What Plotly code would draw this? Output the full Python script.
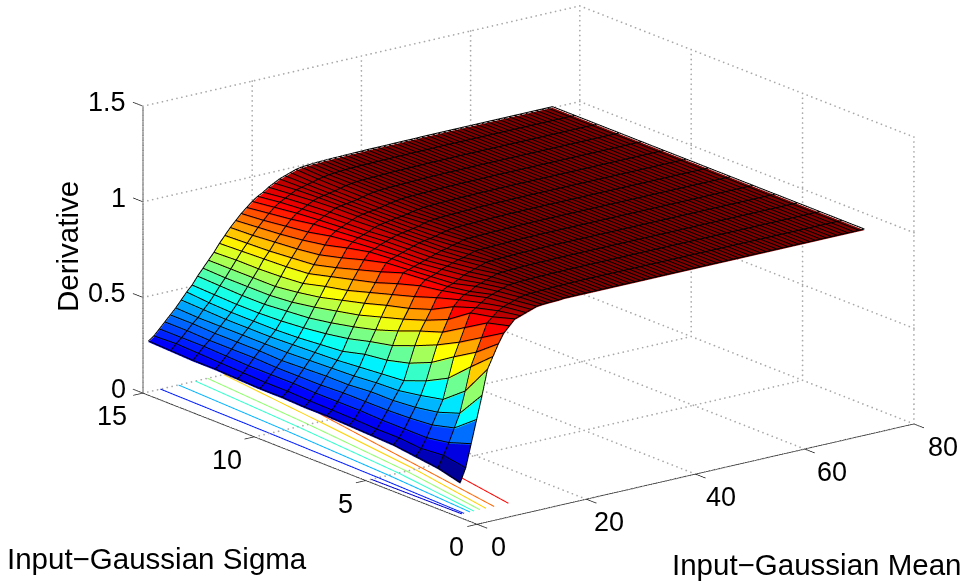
import plotly.graph_objects as go

sigma_values = [1,2,3,4,5,6,7,8,9,10,11,12,13,14,15]
mean_values = list(range(1,76))
# rows: one per mean value, columns: sigma 1..15
z_rows = [
[.16,.19,.205,.22,.225,.23,.235,.235,.24,.24,.245,.25,.25,.255,.26],
[.23,.25,.24,.25,.25,.255,.258,.26,.265,.265,.27,.275,.28,.285,.28],
[.35,.31,.29,.29,.29,.295,.295,.295,.30,.30,.30,.305,.31,.31,.31],
[.47,.38,.35,.34,.335,.335,.335,.33,.33,.33,.335,.335,.335,.34,.34],
[.59,.45,.41,.39,.38,.38,.37,.37,.365,.36,.365,.365,.365,.37,.37],
[.72,.56,.47,.445,.425,.42,.41,.405,.40,.395,.395,.395,.395,.395,.40],
[.78,.68,.575,.515,.47,.46,.45,.44,.435,.43,.425,.425,.425,.43,.435],
[.84,.75,.68,.605,.555,.525,.51,.48,.47,.46,.455,.455,.455,.46,.47],
[.89,.82,.75,.69,.64,.595,.57,.54,.52,.505,.495,.49,.49,.495,.50],
[.92,.89,.82,.75,.71,.665,.625,.595,.57,.55,.54,.53,.53,.535,.54],
[.95,.915,.89,.81,.76,.72,.685,.65,.625,.60,.58,.57,.57,.57,.575],
[.96,.94,.91,.87,.81,.77,.74,.705,.675,.645,.625,.61,.61,.61,.61],
[.97,.955,.93,.90,.865,.825,.79,.755,.72,.695,.665,.655,.65,.65,.645],
[.98,.965,.95,.92,.895,.875,.84,.80,.77,.74,.71,.70,.695,.69,.685],
[.99,.975,.96,.93,.91,.90,.89,.85,.815,.78,.75,.74,.73,.725,.72],
[.993,.985,.97,.95,.92,.91,.90,.89,.86,.825,.795,.78,.77,.76,.755],
[.995,.99,.98,.96,.935,.92,.91,.905,.895,.87,.84,.82,.805,.795,.785],
[.996,.992,.99,.97,.95,.935,.92,.915,.905,.895,.88,.855,.84,.825,.815],
[.997,.993,.992,.98,.96,.945,.93,.925,.92,.91,.90,.89,.87,.855,.84],
[1,.995,.994,.99,.97,.955,.94,.935,.93,.92,.913,.905,.895,.88,.865],
[1,.996,.995,.992,.98,.965,.95,.945,.94,.93,.925,.92,.91,.90,.885],
[1,.997,.996,.994,.99,.97,.96,.955,.95,.945,.938,.933,.925,.915,.90],
[1,.998,.997,.995,.992,.98,.965,.96,.955,.952,.95,.947,.94,.93,.92],
[1,.998,.998,.996,.994,.99,.975,.965,.96,.957,.955,.953,.95,.945,.935],
[1,.999,.998,.997,.995,.992,.98,.97,.965,.962,.96,.957,.955,.952,.95],
[1,.999,.999,.998,.996,.993,.99,.98,.97,.967,.963,.961,.96,.96,.96],
[1,1,.999,.998,.997,.994,.992,.985,.98,.97,.968,.966,.966,.966,.97],
[1,1,.999,.999,.998,.995,.993,.99,.985,.975,.974,.973,.973,.975,.98],
[1,1,1,.999,.998,.996,.994,.992,.988,.982,.98,.98,.98,.98,.985],
[1,1,1,.999,.999,.997,.995,.993,.99,.986,.985,.985,.985,.985,.988],
[1,1,1,1,.999,.998,.996,.994,.992,.99,.989,.988,.988,.988,.99],
[1,1,1,1,.999,.998,.997,.995,.993,.992,.991,.99,.99,.99,.992],
[1,1,1,1,1,.999,.997,.996,.994,.993,.992,.991,.991,.992,.993],
[1,1,1,1,1,.999,.998,.997,.995,.994,.993,.992,.992,.993,.994],
[1,1,1,1,1,.999,.998,.997,.996,.995,.994,.993,.993,.994,.995],
[1,1,1,1,1,1,.999,.998,.997,.996,.995,.994,.994,.995,.995],
[1,1,1,1,1,1,.999,.998,.998,.997,.996,.995,.995,.995,.996],
[1,1,1,1,1,1,.999,.999,.998,.997,.997,.996,.996,.996,.996],
[1,1,1,1,1,1,1,.999,.998,.998,.997,.997,.996,.996,.997],
[1,1,1,1,1,1,1,.999,.999,.998,.998,.997,.997,.997,.997],
[1,1,1,1,1,1,1,1,.999,.999,.998,.998,.997,.997,.998],
[1,1,1,1,1,1,1,1,.999,.999,.999,.998,.998,.998,.998],
[1,1,1,1,1,1,1,1,1,.999,.999,.999,.998,.998,.998],
[1,1,1,1,1,1,1,1,1,.999,.999,.999,.999,.998,.998],
[1,1,1,1,1,1,1,1,1,1,.999,.999,.999,.999,.998],
[1,1,1,1,1,1,1,1,1,1,.999,.999,.999,.999,.999],
[1,1,1,1,1,1,1,1,1,1,1,.999,.999,.999,.999],
[1,1,1,1,1,1,1,1,1,1,1,1,.999,.999,.999],
[1,1,1,1,1,1,1,1,1,1,1,1,1,.999,.999],
[1,1,1,1,1,1,1,1,1,1,1,1,1,1,.999],
[1,1,1,1,1,1,1,1,1,1,1,1,1,1,1],
[1,1,1,1,1,1,1,1,1,1,1,1,1,1,1],
[1,1,1,1,1,1,1,1,1,1,1,1,1,1,1],
[1,1,1,1,1,1,1,1,1,1,1,1,1,1,1],
[1,1,1,1,1,1,1,1,1,1,1,1,1,1,1],
[1,1,1,1,1,1,1,1,1,1,1,1,1,1,1],
[1,1,1,1,1,1,1,1,1,1,1,1,1,1,1],
[1,1,1,1,1,1,1,1,1,1,1,1,1,1,1],
[1,1,1,1,1,1,1,1,1,1,1,1,1,1,1],
[1,1,1,1,1,1,1,1,1,1,1,1,1,1,1],
[1,1,1,1,1,1,1,1,1,1,1,1,1,1,1],
[1,1,1,1,1,1,1,1,1,1,1,1,1,1,1],
[1,1,1,1,1,1,1,1,1,1,1,1,1,1,1],
[1,1,1,1,1,1,1,1,1,1,1,1,1,1,1],
[1,1,1,1,1,1,1,1,1,1,1,1,1,1,1],
[1,1,1,1,1,1,1,1,1,1,1,1,1,1,1],
[1,1,1,1,1,1,1,1,1,1,1,1,1,1,1],
[1,1,1,1,1,1,1,1,1,1,1,1,1,1,1],
[1,1,1,1,1,1,1,1,1,1,1,1,1,1,1],
[1,1,1,1,1,1,1,1,1,1,1,1,1,1,1],
[1,1,1,1,1,1,1,1,1,1,1,1,1,1,1],
[1,1,1,1,1,1,1,1,1,1,1,1,1,1,1],
[1,1,1,1,1,1,1,1,1,1,1,1,1,1,1],
[1,1,1,1,1,1,1,1,1,1,1,1,1,1,1],
[1,1,1,1,1,1,1,1,1,1,1,1,1,1,1],
]

# floor contours: level and the mean it sits at for sigma 1, 5, 10, 15
contour_sigma = [1, 5, 10, 15]
contour_levels = [.21, .28, .405, .51, .59, .72, .81, .89]
contour_means = [
    [1.3, 1.0, None, None],
    [1.7, 2.3, 2.8, 3.2],
    [2.8, 4.2, 5.5, 6.5],
    [3.5, 6.0, 8.0, 9.6],
    [4.6, 7.5, 9.9, 11.8],
    [5.7, 9.0, 12.0, 14.8],
    [7.2, 10.2, 13.9, 17.6],
    [9.8, 13.0, 16.7, 20.5],
]

x_ticks = [0, 20, 40, 60, 80]
y_ticks = [0, 5, 10, 15]
z_ticks = [0, 0.5, 1, 1.5]
z_tick_labels = ["0", "0.5", "1", "1.5"]
x_title = "Input\u2212Gaussian Mean"
y_title = "Input\u2212Gaussian Sigma"
z_title = "Derivative"

jet = [[0, "rgb(0,0,143)"], [.125, "rgb(0,0,255)"], [.375, "rgb(0,255,255)"],
       [.625, "rgb(255,255,0)"], [.875, "rgb(255,0,0)"], [1, "rgb(128,0,0)"]]
CMIN, CMAX = .15, 1.0
XMAX, YMAX, ZMAX = 80, 15, 1.5
FONT = "Liberation Sans, Arial, sans-serif"

nm, ns = len(mean_values), len(sigma_values)
vx, vy, vz, fi, fj, fk, inten = [], [], [], [], [], [], []
for a, m in enumerate(mean_values):
    for b, s in enumerate(sigma_values):
        vx.append(m); vy.append(s); vz.append(z_rows[a][b])
for a in range(nm - 1):
    for b in range(ns - 1):
        p = a * ns + b
        q, r, t = p + 1, p + ns, p + ns + 1
        fi += [p, q]; fj += [r, r]; fk += [q, t]
        inten += [z_rows[a][b], z_rows[a][b]]

fig = go.Figure()
fig.add_trace(go.Mesh3d(x=vx, y=vy, z=vz, i=fi, j=fj, k=fk, intensity=inten, intensitymode="cell",
                        colorscale=jet, cmin=CMIN, cmax=CMAX, showscale=False, flatshading=True,
                        lighting=dict(ambient=1, diffuse=0, specular=0, roughness=1, fresnel=0),
                        hoverinfo="skip"))

LIFT = 0.006
lx, ly, lz = [], [], []
for a, m in enumerate(mean_values):
    lx += [m] * ns + [None]; ly += sigma_values + [None]
    lz += [v + LIFT for v in z_rows[a]] + [None]
for b, s in enumerate(sigma_values):
    lx += mean_values + [None]; ly += [s] * nm + [None]
    lz += [z_rows[a][b] + LIFT for a in range(nm)] + [None]
fig.add_trace(go.Scatter3d(x=lx, y=ly, z=lz, mode="lines", line=dict(color="black", width=2),
                           hoverinfo="skip", showlegend=False))

# floor contours
for lev, ms in zip(contour_levels, contour_means):
    xs = [v for v in ms if v is not None]
    ys = contour_sigma[:len(xs)]
    fig.add_trace(go.Scatter3d(x=xs, y=ys, z=[0] * len(xs), mode="lines",
                               line=dict(width=2, color=[lev] * len(xs), colorscale=jet, cmin=CMIN, cmax=CMAX),
                               hoverinfo="skip", showlegend=False))

# dotted grid on the floor and the two back walls: small dots stepped along each grid line
gx, gy, gz = [], [], []
def seg(p, q, n):
    for i in range(n + 1):
        f = i / n
        gx.append(p[0] + (q[0] - p[0]) * f)
        gy.append(p[1] + (q[1] - p[1]) * f)
        gz.append(p[2] + (q[2] - p[2]) * f)
NX, NY, NZ = 90, 72, 58
for xt in x_ticks:
    seg((xt, 0, 0), (xt, YMAX, 0), NY); seg((xt, YMAX, 0), (xt, YMAX, ZMAX), NZ)
for yt in y_ticks:
    seg((0, yt, 0), (XMAX, yt, 0), NX); seg((XMAX, yt, 0), (XMAX, yt, ZMAX), NZ)
for zt in z_ticks:
    seg((0, YMAX, zt), (XMAX, YMAX, zt), NX); seg((XMAX, YMAX, zt), (XMAX, 0, zt), NY)
fig.add_trace(go.Scatter3d(x=gx, y=gy, z=gz, mode="markers", marker=dict(color="#a8a8a8", size=1, line=dict(width=0)),
                           hoverinfo="skip", showlegend=False))

# solid axes and ticks
ax, ay, az = [], [], []
def aseg(p, q):
    ax.extend([p[0], q[0], None]); ay.extend([p[1], q[1], None]); az.extend([p[2], q[2], None])
aseg((0, 0, 0), (XMAX, 0, 0)); aseg((0, 0, 0), (0, YMAX, 0)); aseg((0, YMAX, 0), (0, YMAX, ZMAX))
for xt in x_ticks:
    aseg((xt, 0, 0), (xt, -0.45, 0))
for yt in y_ticks:
    aseg((0, yt, 0), (-1.8, yt, 0))
for zt in z_ticks:
    aseg((0, YMAX, zt), (0, YMAX + 0.45, zt))
fig.add_trace(go.Scatter3d(x=ax, y=ay, z=az, mode="lines", line=dict(color="#222222", width=1.5),
                           hoverinfo="skip", showlegend=False))

ann = []
tf = dict(family=FONT, size=27, color="black")
for xt, dx in zip(x_ticks, [21, 23, 25, 27, 29]):
    ann.append(dict(x=xt, y=0, z=0, text=str(xt), showarrow=False, xshift=dx, yshift=-23, font=tf))
for yt, dx in zip(y_ticks, [-21, -20, -27, -31]):
    ann.append(dict(x=0, y=yt, z=0, text=str(yt), showarrow=False, xshift=dx, yshift=-23, font=tf))
for zt, zl in zip(z_ticks, z_tick_labels):
    ann.append(dict(x=0, y=YMAX, z=zt, text=zl, showarrow=False, xanchor="right", xshift=-15, yshift=4, font=tf))

hidden = dict(visible=False, showgrid=False, showline=False, showticklabels=False, zeroline=False,
              showbackground=False, showspikes=False, title="")
PX, PY, PZ = 4, 1, 0.1
SCALE = 1.877
asp_x = SCALE * (1 + 2 * PX / XMAX)
asp_y = SCALE * (1 + 2 * PY / YMAX)
asp_z = SCALE * 0.547 * (1 + 2 * PZ / ZMAX)
D = 2.0
d = (-0.579, -0.757, 0.30)
cen = (-0.1419, 0.0726, -0.0909)
fig.update_layout(
    width=965, height=586, margin=dict(l=0, r=0, t=0, b=0), paper_bgcolor="white", showlegend=False,
    font=dict(family=FONT),
    scene=dict(
        domain=dict(x=[0, 1], y=[0, 1]),
        xaxis=dict(hidden, range=[-PX, XMAX + PX]),
        yaxis=dict(hidden, range=[-PY, YMAX + PY]),
        zaxis=dict(hidden, range=[-PZ, ZMAX + PZ]),
        aspectmode="manual", aspectratio=dict(x=asp_x, y=asp_y, z=asp_z),
        camera=dict(projection=dict(type="orthographic"), up=dict(x=0, y=0, z=1),
                    center=dict(x=cen[0], y=cen[1], z=cen[2]),
                    eye=dict(x=cen[0] + D * d[0], y=cen[1] + D * d[1], z=cen[2] + D * d[2])),
        annotations=ann,
    ),
    annotations=[
        dict(text=z_title, x=68 / 965, y=1 - 247 / 586, xref="paper", yref="paper", showarrow=False, textangle=-90,
             xanchor="center", yanchor="middle", font=dict(family=FONT, size=29.5, color="black")),
        dict(text=y_title, x=157 / 965, y=1 - 558 / 586, xref="paper", yref="paper", showarrow=False,
             xanchor="center", yanchor="middle", font=dict(family=FONT, size=29.5, color="black")),
        dict(text=x_title, x=816 / 965, y=1 - 564 / 586, xref="paper", yref="paper", showarrow=False,
             xanchor="center", yanchor="middle", font=dict(family=FONT, size=29.5, color="black")),
    ],
)
fig.write_html("out.html", config={"displayModeBar": False},
               post_script="document.body.style.margin='0';document.documentElement.style.overflow='hidden';")
